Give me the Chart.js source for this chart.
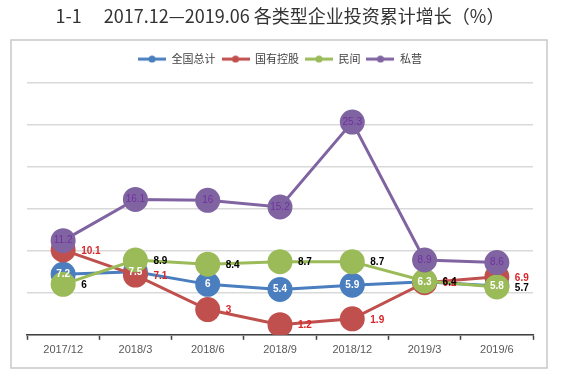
<!DOCTYPE html>
<html>
<head>
<meta charset="utf-8">
<script src="https://cdn.jsdelivr.net/npm/chart.js@4/dist/chart.umd.min.js"></script>
<style>
  html, body { margin: 0; padding: 0; background: #ffffff; }
  #wrap { position: relative; width: 562px; height: 379px; }
</style>
</head>
<body>
<div id="wrap"><canvas id="c" width="562" height="379"></canvas></div>
<script>
const titleText = '1-1\u3000 2017.12\u20142019.06 各类型企业投资累计增长（%）';
const categories = ['2017/12', '2018/3', '2018/6', '2018/9', '2018/12', '2019/3', '2019/6'];
const seriesNames = ['全国总计', '国有控股', '民间', '私营'];
const totalValues = [7.2, 7.5, 6, 5.4, 5.9, 6.3, 5.8];
const stateOwnedValues = [10.1, 7.1, 3, 1.2, 1.9, 6.2, 6.9];
const privateInvestValues = [6, 8.9, 8.4, 8.7, 8.7, 6.4, 5.7];
const privateEnterpriseValues = [11.2, 16.1, 16, 15.2, 25.3, 8.9, 8.6];

const colors = ['#4a7ebf', '#c0504d', '#9bbb59', '#8064a2'];
const labelStyles = [
  { pos: 'center', color: '#ffffff', weight: 'bold' },
  { pos: 'right', color: '#d9262b', weight: 'bold' },
  { pos: 'right', color: '#000000', weight: 'bold' },
  { pos: 'center', color: '#7030a0', weight: 'normal' }
];

function legendIcon(color) {
  const cv = document.createElement('canvas');
  cv.width = 28; cv.height = 8;
  const g = cv.getContext('2d');
  g.strokeStyle = color; g.lineWidth = 3;
  g.beginPath(); g.moveTo(0, 4); g.lineTo(28, 4); g.stroke();
  g.fillStyle = color;
  g.beginPath(); g.arc(14, 4, 3.5, 0, Math.PI * 2); g.fill();
  return cv;
}

const allValues = [totalValues, stateOwnedValues, privateInvestValues, privateEnterpriseValues];
const datasets = allValues.map((vals, i) => ({
  label: seriesNames[i],
  data: vals,
  borderColor: colors[i],
  backgroundColor: colors[i],
  pointBackgroundColor: colors[i],
  pointBorderColor: colors[i],
  pointRadius: 11,
  pointHoverRadius: 11,
  borderWidth: 3,
  tension: 0,
  order: 3 - i
}));

const borderPlugin = {
  id: 'frame',
  beforeDraw(chart) {
    const ctx = chart.ctx;
    ctx.save();
    ctx.fillStyle = '#ffffff';
    ctx.fillRect(0, 0, chart.width, chart.height);
    ctx.strokeStyle = '#c8c8c8';
    ctx.lineWidth = 1.5;
    ctx.strokeRect(11, 40, 536, 328);
    ctx.restore();
  }
};

const legendSpacing = {
  id: 'legendSpacing',
  beforeInit(chart) {
    const origFit = chart.legend.fit;
    chart.legend.fit = function () {
      origFit.call(this);
      this.height += 8;
    };
  }
};

const labelPlugin = {
  id: 'pointLabels',
  afterDatasetsDraw(chart) {
    const ctx = chart.ctx;
    ctx.save();
    chart.data.datasets.forEach((ds, di) => {
      const meta = chart.getDatasetMeta(di);
      const st = labelStyles[di];
      ctx.font = st.weight + ' 10px "Liberation Sans", Arial, sans-serif';
      ctx.fillStyle = st.color;
      ctx.textBaseline = 'middle';
      meta.data.forEach((pt, j) => {
        const txt = String(ds.data[j]);
        if (st.pos === 'center') {
          ctx.textAlign = 'center';
          ctx.fillText(txt, pt.x, pt.y);
        } else {
          ctx.textAlign = 'left';
          ctx.fillText(txt, pt.x + 18, pt.y + 1);
        }
      });
    });
    ctx.restore();
  }
};

new Chart(document.getElementById('c'), {
  type: 'line',
  data: { labels: categories, datasets: datasets },
  plugins: [borderPlugin, legendSpacing, labelPlugin],
  options: {
    responsive: false,
    animation: false,
    events: [],
    layout: { padding: { left: 27, right: 29, top: 5, bottom: 18 } },
    plugins: {
      title: {
        display: true,
        text: titleText,
        color: '#333333',
        font: { family: '"Noto Sans CJK SC", "Noto Sans", sans-serif', size: 18, weight: 'normal' },
        padding: { top: 0, bottom: 21 }
      },
      legend: {
        display: true,
        position: 'top',
        labels: {
          usePointStyle: true,
          pointStyleWidth: 28,
          boxHeight: 8,
          padding: 6,
          color: '#404040',
          font: { family: '"Noto Sans CJK SC", sans-serif', size: 11 },
          generateLabels(chart) {
            return chart.data.datasets.map((ds, i) => ({
              text: ds.label,
              datasetIndex: i,
              pointStyle: legendIcon(colors[i]),
              fillStyle: colors[i],
              strokeStyle: colors[i],
              lineWidth: 0,
              hidden: false,
              fontColor: '#404040'
            }));
          }
        }
      },
      tooltip: { enabled: false }
    },
    scales: {
      x: {
        offset: true,
        grid: {
          display: true,
          offset: true,
          drawOnChartArea: false,
          drawTicks: true,
          tickLength: 5,
          tickWidth: 1.5,
          tickColor: '#404040'
        },
        border: { display: true, color: '#404040', width: 1.5 },
        ticks: {
          color: '#595959',
          padding: 4,
          font: { family: '"Liberation Sans", Arial, sans-serif', size: 11 }
        }
      },
      y: {
        min: 0,
        max: 30,
        ticks: { display: false, stepSize: 5 },
        border: { display: false },
        grid: { color: '#d9d9d9', lineWidth: 1.5, drawTicks: false }
      }
    }
  }
});
</script>
</body>
</html>
